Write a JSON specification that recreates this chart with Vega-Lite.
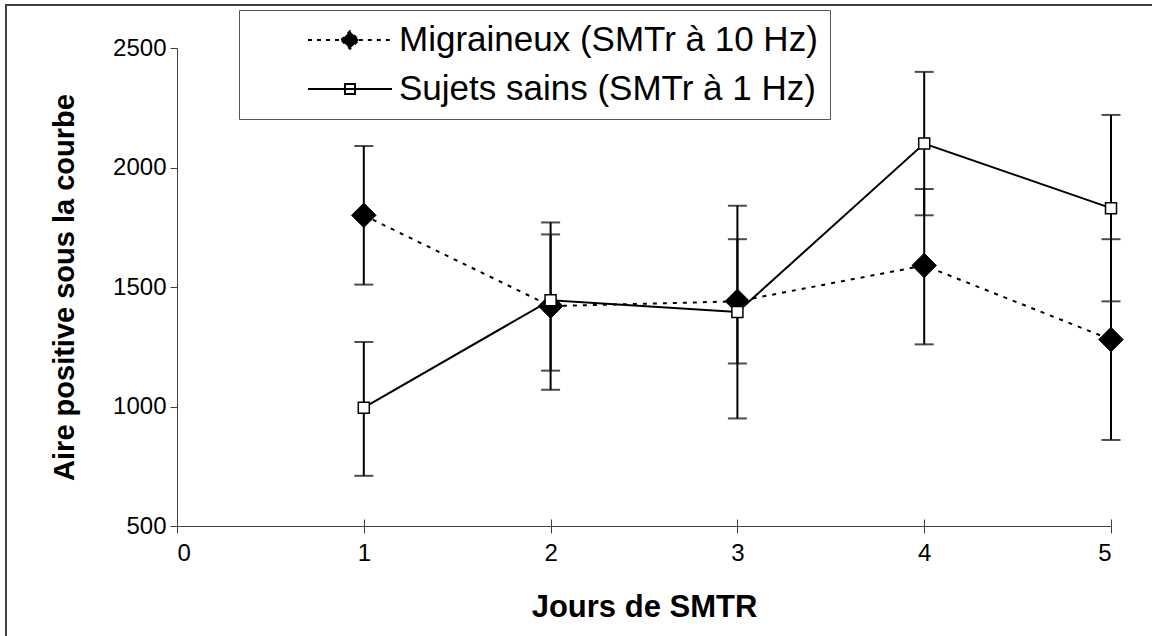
{
  "$schema": "https://vega.github.io/schema/vega-lite/v6.json",
  "width": 1148,
  "height": 633,
  "autosize": {"type": "none"},
  "padding": {"left": 6, "top": 5, "right": 0, "bottom": 0},
  "background": "white",
  "config": {
    "view": {"stroke": "#404040", "strokeWidth": 2},
    "axis": {
      "grid": false,
      "labelFont": "Liberation Sans",
      "labelFontSize": 24,
      "labelColor": "black",
      "titleFont": "Liberation Sans",
      "titleFontSize": 29,
      "titleFontWeight": "bold",
      "titleColor": "black",
      "domainColor": "#404040",
      "domainWidth": 1,
      "tickColor": "#404040",
      "tickWidth": 1
    }
  },
  "data": {
    "values": [
      {"day": 1, "series": "Migraineux (SMTr à 10 Hz)", "mean": 1800, "lo": 1510, "hi": 2090},
      {"day": 2, "series": "Migraineux (SMTr à 10 Hz)", "mean": 1420, "lo": 1070, "hi": 1770},
      {"day": 3, "series": "Migraineux (SMTr à 10 Hz)", "mean": 1440, "lo": 1180, "hi": 1700},
      {"day": 4, "series": "Migraineux (SMTr à 10 Hz)", "mean": 1590, "lo": 1260, "hi": 1910},
      {"day": 5, "series": "Migraineux (SMTr à 10 Hz)", "mean": 1280, "lo": 860, "hi": 1700},
      {"day": 1, "series": "Sujets sains (SMTr à 1 Hz)", "mean": 995, "lo": 710, "hi": 1270},
      {"day": 2, "series": "Sujets sains (SMTr à 1 Hz)", "mean": 1445, "lo": 1150, "hi": 1720},
      {"day": 3, "series": "Sujets sains (SMTr à 1 Hz)", "mean": 1395, "lo": 950, "hi": 1840},
      {"day": 4, "series": "Sujets sains (SMTr à 1 Hz)", "mean": 2100, "lo": 1800, "hi": 2400},
      {"day": 5, "series": "Sujets sains (SMTr à 1 Hz)", "mean": 1830, "lo": 1440, "hi": 2220}
    ]
  },
  "layer": [
    {
      "transform": [{"filter": "datum.series === 'Migraineux (SMTr à 10 Hz)'"}],
      "mark": {"type": "line", "color": "black", "strokeWidth": 2, "strokeDash": [4, 6]},
      "encoding": {
        "x": {
          "field": "day", "type": "quantitative",
          "scale": {"domain": [0, 5], "range": [171, 1105]},
          "axis": {
            "orient": "bottom", "offset": -112, "values": [0, 1, 2, 3, 4, 5],
            "tickSize": 7, "labelPadding": 8, "title": "Jours de SMTR", "titlePadding": 27, "titleFontSize": 31
          }
        },
        "y": {
          "field": "mean", "type": "quantitative",
          "scale": {"domain": [500, 2500], "range": [521, 43]},
          "axis": {
            "orient": "left", "offset": -171, "values": [500, 1000, 1500, 2000, 2500], "format": "d",
            "tickSize": 7, "labelPadding": 4, "title": "Aire positive sous la courbe", "titlePadding": 33
          }
        }
      }
    },
    {
      "transform": [{"filter": "datum.series === 'Sujets sains (SMTr à 1 Hz)'"}],
      "mark": {"type": "line", "color": "black", "strokeWidth": 2},
      "encoding": {
        "x": {"field": "day", "type": "quantitative", "scale": {"domain": [0, 5], "range": [171, 1105]}, "axis": null},
        "y": {"field": "mean", "type": "quantitative", "scale": {"domain": [500, 2500], "range": [521, 43]}}
      }
    },
    {
      "mark": {"type": "rule", "color": "black", "strokeWidth": 2},
      "encoding": {
        "x": {
          "field": "day", "type": "quantitative",
          "scale": {"domain": [0, 5], "range": [171, 1105]},
          "axis": {
            "orient": "bottom", "offset": -112, "values": [0, 1, 2, 3, 4, 5],
            "tickSize": -7, "labels": false, "domain": false, "title": null
          }
        },
        "y": {"field": "lo", "type": "quantitative", "scale": {"domain": [500, 2500], "range": [521, 43]}},
        "y2": {"field": "hi"}
      }
    },
    {
      "mark": {"type": "tick", "orient": "horizontal", "color": "black", "size": 19, "thickness": 2},
      "encoding": {
        "x": {"field": "day", "type": "quantitative", "scale": {"domain": [0, 5], "range": [171, 1105]}, "axis": null},
        "y": {"field": "lo", "type": "quantitative", "scale": {"domain": [500, 2500], "range": [521, 43]}}
      }
    },
    {
      "mark": {"type": "tick", "orient": "horizontal", "color": "black", "size": 19, "thickness": 2},
      "encoding": {
        "x": {"field": "day", "type": "quantitative", "scale": {"domain": [0, 5], "range": [171, 1105]}, "axis": null},
        "y": {"field": "hi", "type": "quantitative", "scale": {"domain": [500, 2500], "range": [521, 43]}}
      }
    },
    {
      "transform": [{"filter": "datum.series === 'Migraineux (SMTr à 10 Hz)'"}],
      "mark": {"type": "point", "shape": "diamond", "size": 600, "filled": true, "fill": "black", "stroke": "black", "strokeWidth": 1, "opacity": 1},
      "encoding": {
        "x": {"field": "day", "type": "quantitative", "scale": {"domain": [0, 5], "range": [171, 1105]}, "axis": null},
        "y": {"field": "mean", "type": "quantitative", "scale": {"domain": [500, 2500], "range": [521, 43]}}
      }
    },
    {
      "transform": [{"filter": "datum.series === 'Sujets sains (SMTr à 1 Hz)'"}],
      "mark": {"type": "point", "shape": "square", "size": 121, "filled": true, "fill": "white", "stroke": "black", "strokeWidth": 1.5, "opacity": 1},
      "encoding": {
        "x": {"field": "day", "type": "quantitative", "scale": {"domain": [0, 5], "range": [171, 1105]}, "axis": null},
        "y": {"field": "mean", "type": "quantitative", "scale": {"domain": [500, 2500], "range": [521, 43]}}
      }
    },
    {
      "transform": [{"filter": "datum.day > 5"}],
      "mark": {"type": "point", "opacity": 1, "stroke": "black", "strokeWidth": 2},
      "encoding": {
        "x": {"field": "day", "type": "quantitative", "scale": {"domain": [0, 5], "range": [171, 1105]}, "axis": null},
        "y": {"field": "mean", "type": "quantitative", "scale": {"domain": [500, 2500], "range": [521, 43]}},
        "shape": {
          "field": "series", "type": "nominal",
          "scale": {
            "domain": ["Migraineux (SMTr à 10 Hz)", "Sujets sains (SMTr à 1 Hz)"],
            "range": [
              "M-1,0L-0.21,0M0.21,0L1,0M-0.21,0L0,-0.21L0.21,0L0,0.21Z",
              "M-1,0L1,0M-0.12,-0.12L0.12,-0.12L0.12,0.12L-0.12,0.12Z"
            ]
          },
          "legend": {
            "title": null,
            "orient": "none",
            "legendX": 233,
            "legendY": 5,
            "padding": 12,
            "strokeColor": "#555555",
            "fillColor": "white",
            "symbolSize": 7056,
            "symbolOpacity": 1,
            "symbolStrokeWidth": 2,
            "symbolStrokeColor": "black",
            "symbolOffset": 56,
            "labelOffset": 6,
            "clipHeight": 36,
            "rowPadding": 13,
            "labelFont": "Liberation Sans",
            "labelFontSize": 35,
            "labelColor": "black",
            "labelLimit": 1000,
            "labelExpr": "datum.label + '\u00a0\u00a0\u00a0\u00a0\u00a0\u00a0\u00a0'"
          }
        },
        "fill": {
          "field": "series", "type": "nominal",
          "scale": {"domain": ["Migraineux (SMTr à 10 Hz)", "Sujets sains (SMTr à 1 Hz)"], "range": ["black", "white"]}
        },
        "stroke": {
          "field": "series", "type": "nominal",
          "scale": {"domain": ["Migraineux (SMTr à 10 Hz)", "Sujets sains (SMTr à 1 Hz)"], "range": ["black", "black"]}
        },
        "strokeDash": {
          "field": "series", "type": "nominal",
          "scale": {"domain": ["Migraineux (SMTr à 10 Hz)", "Sujets sains (SMTr à 1 Hz)"], "range": [[4, 5], [1, 0]]}
        }
      }
    }
  ],
  "resolve": {"axis": {"x": "independent"}}
}
